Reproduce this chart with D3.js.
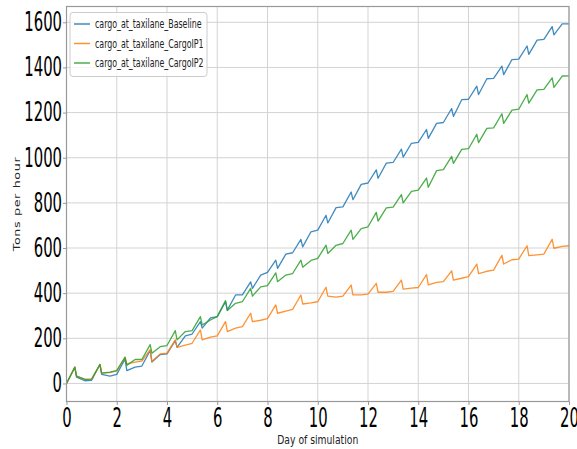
<!DOCTYPE html>
<html>
<head>
<meta charset="utf-8">
<script src="https://cdn.jsdelivr.net/npm/d3@7"></script>
<style>
  body { margin: 0; background: #fff; }
  text { font-family: "DejaVu Sans", sans-serif; }
</style>
</head>
<body>
<svg id="chart" width="577" height="449"></svg>
<script>
// sample times (day of simulation) shared by all three series
var days = [
  0, 0.33, 0.4, 0.73, 1, 1.33, 1.4, 1.73, 2, 2.33, 2.4, 2.73,
  3, 3.33, 3.4, 3.73, 4, 4.33, 4.4, 4.73, 5, 5.33, 5.4, 5.73,
  6, 6.33, 6.4, 6.73, 7, 7.33, 7.4, 7.73, 8, 8.33, 8.4, 8.73,
  9, 9.33, 9.4, 9.73, 10, 10.33, 10.4, 10.73, 11, 11.33, 11.4, 11.73,
  12, 12.33, 12.4, 12.73, 13, 13.33, 13.4, 13.73, 14, 14.33, 14.4, 14.73,
  15, 15.33, 15.4, 15.73, 16, 16.33, 16.4, 16.73, 17, 17.33, 17.4, 17.73,
  18, 18.33, 18.4, 18.73, 19, 19.33, 19.4, 19.73, 20
];

var baseline = [
  0, 72, 28, 12, 14, 84, 40, 32, 40, 108, 57, 72,
  77, 146, 95, 128, 131, 190, 160, 211, 219, 274, 245, 290,
  296, 362, 325, 392, 392, 450, 421, 480, 492, 546, 510, 573,
  579, 638, 605, 672, 679, 745, 711, 779, 782, 848, 814, 882,
  888, 946, 909, 976, 979, 1038, 1003, 1064, 1068, 1125, 1086, 1152,
  1156, 1218, 1183, 1257, 1259, 1317, 1280, 1350, 1352, 1406, 1368, 1435,
  1437, 1495, 1458, 1521, 1524, 1581, 1544, 1593, 1593
];

var cargoIP1 = [
  0, 72, 32, 18, 19, 84, 46, 48, 57, 116, 87, 94,
  99, 150, 97, 131, 134, 193, 160, 170, 178, 237, 193, 205,
  211, 274, 230, 245, 252, 311, 274, 280, 287, 348, 311, 320,
  328, 392, 352, 357, 362, 426, 387, 382, 387, 436, 392, 392,
  396, 443, 404, 404, 408, 458, 418, 422, 425, 482, 437, 448,
  451, 499, 458, 466, 473, 529, 487, 497, 502, 568, 529, 548,
  551, 610, 566, 570, 573, 639, 599, 607, 610
];

var cargoIP2 = [
  0, 72, 32, 18, 19, 84, 46, 50, 57, 116, 80, 106,
  106, 172, 134, 163, 168, 234, 193, 230, 234, 296, 259, 281,
  296, 367, 323, 355, 362, 421, 387, 428, 433, 490, 451, 480,
  487, 546, 515, 545, 554, 613, 576, 612, 620, 679, 638, 686,
  694, 758, 719, 778, 781, 837, 800, 851, 856, 910, 869, 943,
  947, 1006, 975, 1037, 1040, 1104, 1067, 1130, 1132, 1195, 1152, 1211,
  1215, 1280, 1242, 1301, 1303, 1354, 1312, 1362, 1363
];

var seriesNames = [
  "cargo_at_taxilane_Baseline",
  "cargo_at_taxilane_CargoIP1",
  "cargo_at_taxilane_CargoIP2"
];
var seriesColors = ["#1f77b4", "#ff7f0e", "#2ca02c"];

var xTicks = [0, 2, 4, 6, 8, 10, 12, 14, 16, 18, 20];
var yTicks = [0, 200, 400, 600, 800, 1000, 1200, 1400, 1600];

var margin = { top: 6.5, right: 8, bottom: 47.5, left: 66.5 };
var width = 577 - margin.left - margin.right;
var height = 449 - margin.top - margin.bottom;

var svg = d3.select("#chart");
var g = svg.append("g").attr("transform", "translate(" + margin.left + "," + margin.top + ")");

var x = d3.scaleLinear().domain([0, 20]).range([0, width]);
var y = d3.scaleLinear().domain([-80, 1670]).range([height, 0]);

// squeeze text horizontally (the reference was rendered narrow)
function squish(sel, k) {
  sel.each(function () {
    var w = this.getComputedTextLength();
    d3.select(this).attr("textLength", w * k).attr("lengthAdjust", "spacingAndGlyphs");
  });
}

// grid
g.append("g").selectAll("line").data(xTicks).enter().append("line")
  .attr("x1", d => x(d)).attr("x2", d => x(d))
  .attr("y1", 0).attr("y2", height)
  .attr("stroke", "#d3d3d3").attr("stroke-width", 1);
g.append("g").selectAll("line").data(yTicks).enter().append("line")
  .attr("x1", 0).attr("x2", width)
  .attr("y1", d => y(d)).attr("y2", d => y(d))
  .attr("stroke", "#d3d3d3").attr("stroke-width", 1);

// axes
var xAxis = g.append("g").attr("transform", "translate(0," + height + ")")
  .call(d3.axisBottom(x).tickValues(xTicks).tickSize(3.5).tickPadding(3.5).tickFormat(d3.format("d")));
var yAxis = g.append("g")
  .call(d3.axisLeft(y).tickValues(yTicks).tickSize(3.5).tickPadding(1).tickFormat(d3.format("d")));

[xAxis, yAxis].forEach(function (ax) {
  ax.select(".domain").remove();
  ax.selectAll(".tick line").attr("stroke", "#999");
  ax.selectAll(".tick text")
    .attr("font-family", "DejaVu Sans")
    .attr("font-size", 26)
    .attr("fill", "#000");
  squish(ax.selectAll(".tick text"), 0.57);
});

// series lines
var line = d3.line().x((d, i) => x(days[i])).y(d => y(d));
[baseline, cargoIP1, cargoIP2].forEach(function (vals, i) {
  g.append("path")
    .datum(vals)
    .attr("fill", "none")
    .attr("stroke", seriesColors[i])
    .attr("stroke-opacity", 0.85)
    .attr("stroke-width", 1.3)
    .attr("stroke-linejoin", "round")
    .attr("d", line);
});

// frame
g.append("rect")
  .attr("x", 0).attr("y", 0).attr("width", width).attr("height", height)
  .attr("fill", "none").attr("stroke", "#999").attr("stroke-width", 1.2);

// legend
var legend = g.append("g").attr("transform", "translate(3.5,6)");
legend.append("rect")
  .attr("x", 0).attr("y", 0).attr("width", 137).attr("height", 64).attr("rx", 3)
  .attr("fill", "#fff").attr("fill-opacity", 0.8)
  .attr("stroke", "#cccccc").attr("stroke-width", 1);
var items = legend.selectAll("g.item").data(seriesNames).enter().append("g")
  .attr("class", "item")
  .attr("transform", (d, i) => "translate(0," + (11.5 + i * 19.5) + ")");
items.append("line")
  .attr("x1", 4).attr("x2", 20).attr("y1", 0).attr("y2", 0)
  .attr("stroke", (d, i) => seriesColors[i]).attr("stroke-width", 1.5).attr("stroke-opacity", 0.85);
var legendText = items.append("text")
  .attr("x", 25).attr("y", 4)
  .attr("font-size", 11.4).attr("fill", "#222")
  .text(d => d);
squish(legendText, 0.69);

// axis labels
var xLabel = svg.append("text")
  .attr("x", margin.left + width / 2).attr("y", 443.5)
  .attr("text-anchor", "middle").attr("font-size", 12.8).attr("fill", "#222")
  .text("Day of simulation");
squish(xLabel, 0.72);

svg.append("text")
  .attr("transform", "translate(19.5," + (margin.top + height / 2) + ") scale(0.65,1) rotate(-90)")
  .attr("text-anchor", "middle").attr("font-size", 12.8).attr("fill", "#222")
  .attr("letter-spacing", 0.6)
  .text("Tons per hour");
</script>
</body>
</html>
